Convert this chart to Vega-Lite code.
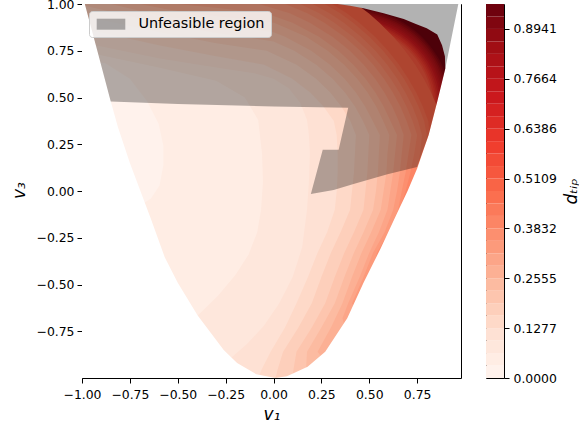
{
"$schema":"https://vega.github.io/schema/vega-lite/v6.json",
"background":"white",
"padding":{"left":9,"top":-3,"right":0,"bottom":0},
"bounds":"flush",
"spacing":25,
"datasets":{
"cb":[{"lo":0,"hi":0.0319,"m":0.016},{"lo":0.0319,"hi":0.0639,"m":0.0479},{"lo":0.0639,"hi":0.0958,"m":0.0798},{"lo":0.0958,"hi":0.1277,"m":0.1118},{"lo":0.1277,"hi":0.1597,"m":0.1437},{"lo":0.1597,"hi":0.1916,"m":0.1756},{"lo":0.1916,"hi":0.2235,"m":0.2076},{"lo":0.2235,"hi":0.2555,"m":0.2395},{"lo":0.2555,"hi":0.2874,"m":0.2714},{"lo":0.2874,"hi":0.3193,"m":0.3034},{"lo":0.3193,"hi":0.3513,"m":0.3353},{"lo":0.3513,"hi":0.3832,"m":0.3672},{"lo":0.3832,"hi":0.4151,"m":0.3992},{"lo":0.4151,"hi":0.4471,"m":0.4311},{"lo":0.4471,"hi":0.479,"m":0.463},{"lo":0.479,"hi":0.5109,"m":0.4949},{"lo":0.5109,"hi":0.5429,"m":0.5269},{"lo":0.5429,"hi":0.5748,"m":0.5588},{"lo":0.5748,"hi":0.6067,"m":0.5907},{"lo":0.6067,"hi":0.6386,"m":0.6226},{"lo":0.6386,"hi":0.6706,"m":0.6546},{"lo":0.6706,"hi":0.7025,"m":0.6865},{"lo":0.7025,"hi":0.7344,"m":0.7184},{"lo":0.7344,"hi":0.7664,"m":0.7504},{"lo":0.7664,"hi":0.7983,"m":0.7823},{"lo":0.7983,"hi":0.8302,"m":0.8143},{"lo":0.8302,"hi":0.8622,"m":0.8462},{"lo":0.8622,"hi":0.8941,"m":0.8781},{"lo":0.8941,"hi":0.926,"m":0.9101},{"lo":0.926,"hi":0.958,"m":0.942}],
"discs":[
{"p":0,"v":0.942,"i":0,"x":-1.05,"y":-1.05},{"p":0,"v":0.942,"i":1,"x":0,"y":-1.05},{"p":0,"v":0.942,"i":2,"x":1.05,"y":-1.05},{"p":0,"v":0.942,"i":3,"x":1.05,"y":0},{"p":0,"v":0.942,"i":4,"x":1.05,"y":1.05},{"p":0,"v":0.942,"i":5,"x":0,"y":1.05},{"p":0,"v":0.942,"i":6,"x":-1.05,"y":1.05},{"p":0,"v":0.942,"i":7,"x":-1.05,"y":0},
{"p":1,"v":0.9101,"i":0,"x":0.4,"y":0.45},{"p":1,"v":0.9101,"i":1,"x":0.859,"y":0.185},{"p":1,"v":0.9101,"i":2,"x":0.922,"y":0.358},{"p":1,"v":0.9101,"i":3,"x":0.922,"y":0.542},{"p":1,"v":0.9101,"i":4,"x":0.859,"y":0.715},{"p":1,"v":0.9101,"i":5,"x":0.741,"y":0.856},{"p":1,"v":0.9101,"i":6,"x":0.581,"y":0.948},{"p":1,"v":0.9101,"i":7,"x":0.4,"y":0.98},{"p":1,"v":0.9101,"i":8,"x":0.219,"y":0.948},
{"p":2,"v":0.8781,"i":0,"x":0.4,"y":0.45},{"p":2,"v":0.8781,"i":1,"x":0.852,"y":0.189},{"p":2,"v":0.8781,"i":2,"x":0.914,"y":0.359},{"p":2,"v":0.8781,"i":3,"x":0.914,"y":0.541},{"p":2,"v":0.8781,"i":4,"x":0.852,"y":0.711},{"p":2,"v":0.8781,"i":5,"x":0.736,"y":0.85},{"p":2,"v":0.8781,"i":6,"x":0.579,"y":0.941},{"p":2,"v":0.8781,"i":7,"x":0.4,"y":0.972},{"p":2,"v":0.8781,"i":8,"x":0.221,"y":0.941},
{"p":3,"v":0.8462,"i":0,"x":0.4,"y":0.45},{"p":3,"v":0.8462,"i":1,"x":0.844,"y":0.193},{"p":3,"v":0.8462,"i":2,"x":0.905,"y":0.361},{"p":3,"v":0.8462,"i":3,"x":0.905,"y":0.539},{"p":3,"v":0.8462,"i":4,"x":0.844,"y":0.707},{"p":3,"v":0.8462,"i":5,"x":0.73,"y":0.843},{"p":3,"v":0.8462,"i":6,"x":0.575,"y":0.932},{"p":3,"v":0.8462,"i":7,"x":0.4,"y":0.963},{"p":3,"v":0.8462,"i":8,"x":0.225,"y":0.932},
{"p":4,"v":0.8143,"i":0,"x":0.4,"y":0.45},{"p":4,"v":0.8143,"i":1,"x":0.837,"y":0.197},{"p":4,"v":0.8143,"i":2,"x":0.897,"y":0.362},{"p":4,"v":0.8143,"i":3,"x":0.897,"y":0.538},{"p":4,"v":0.8143,"i":4,"x":0.837,"y":0.703},{"p":4,"v":0.8143,"i":5,"x":0.725,"y":0.837},{"p":4,"v":0.8143,"i":6,"x":0.573,"y":0.925},{"p":4,"v":0.8143,"i":7,"x":0.4,"y":0.955},{"p":4,"v":0.8143,"i":8,"x":0.227,"y":0.925},
{"p":5,"v":0.7823,"i":0,"x":0.4,"y":0.45},{"p":5,"v":0.7823,"i":1,"x":0.83,"y":0.201},{"p":5,"v":0.7823,"i":2,"x":0.89,"y":0.364},{"p":5,"v":0.7823,"i":3,"x":0.89,"y":0.536},{"p":5,"v":0.7823,"i":4,"x":0.83,"y":0.699},{"p":5,"v":0.7823,"i":5,"x":0.72,"y":0.831},{"p":5,"v":0.7823,"i":6,"x":0.57,"y":0.917},{"p":5,"v":0.7823,"i":7,"x":0.4,"y":0.947},{"p":5,"v":0.7823,"i":8,"x":0.23,"y":0.917},
{"p":6,"v":0.7504,"i":0,"x":0.4,"y":0.45},{"p":6,"v":0.7504,"i":1,"x":0.823,"y":0.206},{"p":6,"v":0.7504,"i":2,"x":0.881,"y":0.365},{"p":6,"v":0.7504,"i":3,"x":0.881,"y":0.535},{"p":6,"v":0.7504,"i":4,"x":0.823,"y":0.694},{"p":6,"v":0.7504,"i":5,"x":0.714,"y":0.824},{"p":6,"v":0.7504,"i":6,"x":0.567,"y":0.909},{"p":6,"v":0.7504,"i":7,"x":0.4,"y":0.938},{"p":6,"v":0.7504,"i":8,"x":0.233,"y":0.909},
{"p":7,"v":0.7184,"i":0,"x":0.4,"y":0.45},{"p":7,"v":0.7184,"i":1,"x":0.816,"y":0.21},{"p":7,"v":0.7184,"i":2,"x":0.873,"y":0.366},{"p":7,"v":0.7184,"i":3,"x":0.873,"y":0.534},{"p":7,"v":0.7184,"i":4,"x":0.816,"y":0.69},{"p":7,"v":0.7184,"i":5,"x":0.709,"y":0.818},{"p":7,"v":0.7184,"i":6,"x":0.564,"y":0.901},{"p":7,"v":0.7184,"i":7,"x":0.4,"y":0.93},{"p":7,"v":0.7184,"i":8,"x":0.236,"y":0.901},
{"p":8,"v":0.6865,"i":0,"x":0.4,"y":0.45},{"p":8,"v":0.6865,"i":1,"x":0.809,"y":0.214},{"p":8,"v":0.6865,"i":2,"x":0.865,"y":0.368},{"p":8,"v":0.6865,"i":3,"x":0.865,"y":0.532},{"p":8,"v":0.6865,"i":4,"x":0.809,"y":0.686},{"p":8,"v":0.6865,"i":5,"x":0.703,"y":0.812},{"p":8,"v":0.6865,"i":6,"x":0.561,"y":0.894},{"p":8,"v":0.6865,"i":7,"x":0.4,"y":0.922},{"p":8,"v":0.6865,"i":8,"x":0.239,"y":0.894},
{"p":9,"v":0.6546,"i":0,"x":0.4,"y":0.45},{"p":9,"v":0.6546,"i":1,"x":0.801,"y":0.218},{"p":9,"v":0.6546,"i":2,"x":0.856,"y":0.369},{"p":9,"v":0.6546,"i":3,"x":0.856,"y":0.531},{"p":9,"v":0.6546,"i":4,"x":0.801,"y":0.682},{"p":9,"v":0.6546,"i":5,"x":0.698,"y":0.805},{"p":9,"v":0.6546,"i":6,"x":0.558,"y":0.885},{"p":9,"v":0.6546,"i":7,"x":0.4,"y":0.913},{"p":9,"v":0.6546,"i":8,"x":0.242,"y":0.885},
{"p":10,"v":0.6226,"i":0,"x":0.4,"y":0.45},{"p":10,"v":0.6226,"i":1,"x":0.794,"y":0.223},{"p":10,"v":0.6226,"i":2,"x":0.848,"y":0.371},{"p":10,"v":0.6226,"i":3,"x":0.848,"y":0.529},{"p":10,"v":0.6226,"i":4,"x":0.794,"y":0.678},{"p":10,"v":0.6226,"i":5,"x":0.693,"y":0.799},{"p":10,"v":0.6226,"i":6,"x":0.556,"y":0.878},{"p":10,"v":0.6226,"i":7,"x":0.4,"y":0.905},{"p":10,"v":0.6226,"i":8,"x":0.244,"y":0.878},
{"p":11,"v":0.5907,"i":0,"x":0.4,"y":0.45},{"p":11,"v":0.5907,"i":1,"x":0.787,"y":0.226},{"p":11,"v":0.5907,"i":2,"x":0.84,"y":0.372},{"p":11,"v":0.5907,"i":3,"x":0.84,"y":0.528},{"p":11,"v":0.5907,"i":4,"x":0.787,"y":0.674},{"p":11,"v":0.5907,"i":5,"x":0.687,"y":0.792},{"p":11,"v":0.5907,"i":6,"x":0.553,"y":0.87},{"p":11,"v":0.5907,"i":7,"x":0.4,"y":0.897},{"p":11,"v":0.5907,"i":8,"x":0.247,"y":0.87},
{"p":12,"v":0.5588,"i":0,"x":0.4,"y":0.45},{"p":12,"v":0.5588,"i":1,"x":0.779,"y":0.231},{"p":12,"v":0.5588,"i":2,"x":0.831,"y":0.374},{"p":12,"v":0.5588,"i":3,"x":0.831,"y":0.526},{"p":12,"v":0.5588,"i":4,"x":0.779,"y":0.669},{"p":12,"v":0.5588,"i":5,"x":0.682,"y":0.786},{"p":12,"v":0.5588,"i":6,"x":0.55,"y":0.862},{"p":12,"v":0.5588,"i":7,"x":0.4,"y":0.888},{"p":12,"v":0.5588,"i":8,"x":0.25,"y":0.862},
{"p":13,"v":0.5269,"i":0,"x":0.4,"y":0.45},{"p":13,"v":0.5269,"i":1,"x":0.772,"y":0.235},{"p":13,"v":0.5269,"i":2,"x":0.824,"y":0.375},{"p":13,"v":0.5269,"i":3,"x":0.824,"y":0.525},{"p":13,"v":0.5269,"i":4,"x":0.772,"y":0.665},{"p":13,"v":0.5269,"i":5,"x":0.676,"y":0.779},{"p":13,"v":0.5269,"i":6,"x":0.547,"y":0.854},{"p":13,"v":0.5269,"i":7,"x":0.4,"y":0.88},{"p":13,"v":0.5269,"i":8,"x":0.253,"y":0.854}
],
"contours":[
{"p":16,"v":0.4949,"i":0,"x":-1.05,"y":1.05},{"p":16,"v":0.4949,"i":1,"x":0.433,"y":1.05},{"p":16,"v":0.4949,"i":2,"x":0.433,"y":1.0},{"p":16,"v":0.4949,"i":3,"x":0.497,"y":0.95},{"p":16,"v":0.4949,"i":4,"x":0.553,"y":0.9},{"p":16,"v":0.4949,"i":5,"x":0.626,"y":0.825},{"p":16,"v":0.4949,"i":6,"x":0.687,"y":0.75},{"p":16,"v":0.4949,"i":7,"x":0.74,"y":0.675},{"p":16,"v":0.4949,"i":8,"x":0.785,"y":0.6},{"p":16,"v":0.4949,"i":9,"x":0.823,"y":0.525},{"p":16,"v":0.4949,"i":10,"x":0.855,"y":0.45},{"p":16,"v":0.4949,"i":11,"x":1.05,"y":0.45},{"p":16,"v":0.4949,"i":12,"x":1.05,"y":-1.05},{"p":16,"v":0.4949,"i":13,"x":-1.05,"y":-1.05},
{"p":15,"v":0.463,"i":0,"x":-1.05,"y":1.05},{"p":15,"v":0.463,"i":1,"x":0.307,"y":1.05},{"p":15,"v":0.463,"i":2,"x":0.307,"y":1.0},{"p":15,"v":0.463,"i":3,"x":0.383,"y":0.95},{"p":15,"v":0.463,"i":4,"x":0.448,"y":0.9},{"p":15,"v":0.463,"i":5,"x":0.53,"y":0.825},{"p":15,"v":0.463,"i":6,"x":0.598,"y":0.75},{"p":15,"v":0.463,"i":7,"x":0.656,"y":0.675},{"p":15,"v":0.463,"i":8,"x":0.704,"y":0.6},{"p":15,"v":0.463,"i":9,"x":0.746,"y":0.525},{"p":15,"v":0.463,"i":10,"x":0.78,"y":0.45},{"p":15,"v":0.463,"i":11,"x":0.808,"y":0.375},{"p":15,"v":0.463,"i":12,"x":0.815,"y":0.3},{"p":15,"v":0.463,"i":13,"x":1.05,"y":0.3},{"p":15,"v":0.463,"i":14,"x":1.05,"y":-1.05},{"p":15,"v":0.463,"i":15,"x":-1.05,"y":-1.05},
{"p":14,"v":0.4311,"i":0,"x":-1.05,"y":1.05},{"p":14,"v":0.4311,"i":1,"x":0.268,"y":1.05},{"p":14,"v":0.4311,"i":2,"x":0.268,"y":1.0},{"p":14,"v":0.4311,"i":3,"x":0.348,"y":0.95},{"p":14,"v":0.4311,"i":4,"x":0.416,"y":0.9},{"p":14,"v":0.4311,"i":5,"x":0.501,"y":0.825},{"p":14,"v":0.4311,"i":6,"x":0.572,"y":0.75},{"p":14,"v":0.4311,"i":7,"x":0.631,"y":0.675},{"p":14,"v":0.4311,"i":8,"x":0.681,"y":0.6},{"p":14,"v":0.4311,"i":9,"x":0.723,"y":0.525},{"p":14,"v":0.4311,"i":10,"x":0.758,"y":0.45},{"p":14,"v":0.4311,"i":11,"x":0.787,"y":0.375},{"p":14,"v":0.4311,"i":12,"x":0.8,"y":0.3},{"p":14,"v":0.4311,"i":13,"x":0.795,"y":0.22},{"p":14,"v":0.4311,"i":14,"x":1.05,"y":0.22},{"p":14,"v":0.4311,"i":15,"x":1.05,"y":-1.05},{"p":14,"v":0.4311,"i":16,"x":-1.05,"y":-1.05},
{"p":13,"v":0.3992,"i":0,"x":-1.05,"y":1.05},{"p":13,"v":0.3992,"i":1,"x":0.204,"y":1.05},{"p":13,"v":0.3992,"i":2,"x":0.204,"y":1.0},{"p":13,"v":0.3992,"i":3,"x":0.293,"y":0.95},{"p":13,"v":0.3992,"i":4,"x":0.367,"y":0.9},{"p":13,"v":0.3992,"i":5,"x":0.457,"y":0.825},{"p":13,"v":0.3992,"i":6,"x":0.532,"y":0.75},{"p":13,"v":0.3992,"i":7,"x":0.594,"y":0.675},{"p":13,"v":0.3992,"i":8,"x":0.646,"y":0.6},{"p":13,"v":0.3992,"i":9,"x":0.689,"y":0.525},{"p":13,"v":0.3992,"i":10,"x":0.726,"y":0.45},{"p":13,"v":0.3992,"i":11,"x":0.755,"y":0.375},{"p":13,"v":0.3992,"i":12,"x":0.775,"y":0.3},{"p":13,"v":0.3992,"i":13,"x":0.765,"y":0.2},{"p":13,"v":0.3992,"i":14,"x":0.75,"y":0.1},{"p":13,"v":0.3992,"i":15,"x":1.05,"y":0.1},{"p":13,"v":0.3992,"i":16,"x":1.05,"y":-1.05},{"p":13,"v":0.3992,"i":17,"x":-1.05,"y":-1.05},
{"p":12,"v":0.3672,"i":0,"x":-1.05,"y":1.05},{"p":12,"v":0.3672,"i":1,"x":0.139,"y":1.05},{"p":12,"v":0.3672,"i":2,"x":0.139,"y":1.0},{"p":12,"v":0.3672,"i":3,"x":0.239,"y":0.95},{"p":12,"v":0.3672,"i":4,"x":0.318,"y":0.9},{"p":12,"v":0.3672,"i":5,"x":0.415,"y":0.825},{"p":12,"v":0.3672,"i":6,"x":0.494,"y":0.75},{"p":12,"v":0.3672,"i":7,"x":0.558,"y":0.675},{"p":12,"v":0.3672,"i":8,"x":0.612,"y":0.6},{"p":12,"v":0.3672,"i":9,"x":0.658,"y":0.525},{"p":12,"v":0.3672,"i":10,"x":0.695,"y":0.45},{"p":12,"v":0.3672,"i":11,"x":0.726,"y":0.375},{"p":12,"v":0.3672,"i":12,"x":0.75,"y":0.3},{"p":12,"v":0.3672,"i":13,"x":0.735,"y":0.2},{"p":12,"v":0.3672,"i":14,"x":0.715,"y":0.1},{"p":12,"v":0.3672,"i":15,"x":0.69,"y":0.0},{"p":12,"v":0.3672,"i":16,"x":0.665,"y":-0.08},{"p":12,"v":0.3672,"i":17,"x":1.05,"y":-0.08},{"p":12,"v":0.3672,"i":18,"x":1.05,"y":-1.05},{"p":12,"v":0.3672,"i":19,"x":-1.05,"y":-1.05},
{"p":11,"v":0.3353,"i":0,"x":-1.05,"y":1.05},{"p":11,"v":0.3353,"i":1,"x":0.061,"y":1.05},{"p":11,"v":0.3353,"i":2,"x":0.061,"y":1.0},{"p":11,"v":0.3353,"i":3,"x":0.177,"y":0.95},{"p":11,"v":0.3353,"i":4,"x":0.266,"y":0.9},{"p":11,"v":0.3353,"i":5,"x":0.37,"y":0.825},{"p":11,"v":0.3353,"i":6,"x":0.453,"y":0.75},{"p":11,"v":0.3353,"i":7,"x":0.521,"y":0.675},{"p":11,"v":0.3353,"i":8,"x":0.577,"y":0.6},{"p":11,"v":0.3353,"i":9,"x":0.624,"y":0.525},{"p":11,"v":0.3353,"i":10,"x":0.663,"y":0.45},{"p":11,"v":0.3353,"i":11,"x":0.695,"y":0.375},{"p":11,"v":0.3353,"i":12,"x":0.72,"y":0.3},{"p":11,"v":0.3353,"i":13,"x":0.705,"y":0.2},{"p":11,"v":0.3353,"i":14,"x":0.69,"y":0.1},{"p":11,"v":0.3353,"i":15,"x":0.67,"y":0.0},{"p":11,"v":0.3353,"i":16,"x":0.65,"y":-0.1},{"p":11,"v":0.3353,"i":17,"x":0.6,"y":-0.22},{"p":11,"v":0.3353,"i":18,"x":0.54,"y":-0.33},{"p":11,"v":0.3353,"i":19,"x":0.52,"y":-0.42},{"p":11,"v":0.3353,"i":20,"x":1.05,"y":-0.42},{"p":11,"v":0.3353,"i":21,"x":1.05,"y":-1.05},{"p":11,"v":0.3353,"i":22,"x":-1.05,"y":-1.05},
{"p":10,"v":0.3034,"i":0,"x":-1.05,"y":1.05},{"p":10,"v":0.3034,"i":1,"x":-0.075,"y":1.05},{"p":10,"v":0.3034,"i":2,"x":-0.075,"y":1.0},{"p":10,"v":0.3034,"i":3,"x":0.085,"y":0.95},{"p":10,"v":0.3034,"i":4,"x":0.19,"y":0.9},{"p":10,"v":0.3034,"i":5,"x":0.308,"y":0.825},{"p":10,"v":0.3034,"i":6,"x":0.399,"y":0.75},{"p":10,"v":0.3034,"i":7,"x":0.471,"y":0.675},{"p":10,"v":0.3034,"i":8,"x":0.531,"y":0.6},{"p":10,"v":0.3034,"i":9,"x":0.58,"y":0.525},{"p":10,"v":0.3034,"i":10,"x":0.621,"y":0.45},{"p":10,"v":0.3034,"i":11,"x":0.654,"y":0.375},{"p":10,"v":0.3034,"i":12,"x":0.68,"y":0.3},{"p":10,"v":0.3034,"i":13,"x":0.67,"y":0.2},{"p":10,"v":0.3034,"i":14,"x":0.66,"y":0.1},{"p":10,"v":0.3034,"i":15,"x":0.645,"y":0.0},{"p":10,"v":0.3034,"i":16,"x":0.625,"y":-0.1},{"p":10,"v":0.3034,"i":17,"x":0.58,"y":-0.22},{"p":10,"v":0.3034,"i":18,"x":0.52,"y":-0.33},{"p":10,"v":0.3034,"i":19,"x":0.47,"y":-0.46},{"p":10,"v":0.3034,"i":20,"x":0.41,"y":-0.6},{"p":10,"v":0.3034,"i":21,"x":0.42,"y":-0.62},{"p":10,"v":0.3034,"i":22,"x":1.05,"y":-0.62},{"p":10,"v":0.3034,"i":23,"x":1.05,"y":-1.05},{"p":10,"v":0.3034,"i":24,"x":-1.05,"y":-1.05},
{"p":9,"v":0.2714,"i":0,"x":-1.05,"y":1.05},{"p":9,"v":0.2714,"i":1,"x":-0.5,"y":1.05},{"p":9,"v":0.2714,"i":2,"x":-0.5,"y":1.0},{"p":9,"v":0.2714,"i":3,"x":-0.3,"y":0.98},{"p":9,"v":0.2714,"i":4,"x":-0.04,"y":0.95},{"p":9,"v":0.2714,"i":5,"x":0.1,"y":0.9},{"p":9,"v":0.2714,"i":6,"x":0.238,"y":0.825},{"p":9,"v":0.2714,"i":7,"x":0.339,"y":0.75},{"p":9,"v":0.2714,"i":8,"x":0.417,"y":0.675},{"p":9,"v":0.2714,"i":9,"x":0.481,"y":0.6},{"p":9,"v":0.2714,"i":10,"x":0.533,"y":0.525},{"p":9,"v":0.2714,"i":11,"x":0.576,"y":0.45},{"p":9,"v":0.2714,"i":12,"x":0.611,"y":0.375},{"p":9,"v":0.2714,"i":13,"x":0.645,"y":0.3},{"p":9,"v":0.2714,"i":14,"x":0.635,"y":0.2},{"p":9,"v":0.2714,"i":15,"x":0.625,"y":0.1},{"p":9,"v":0.2714,"i":16,"x":0.61,"y":0.0},{"p":9,"v":0.2714,"i":17,"x":0.595,"y":-0.1},{"p":9,"v":0.2714,"i":18,"x":0.55,"y":-0.22},{"p":9,"v":0.2714,"i":19,"x":0.5,"y":-0.33},{"p":9,"v":0.2714,"i":20,"x":0.45,"y":-0.46},{"p":9,"v":0.2714,"i":21,"x":0.39,"y":-0.6},{"p":9,"v":0.2714,"i":22,"x":0.36,"y":-0.68},{"p":9,"v":0.2714,"i":23,"x":0.37,"y":-0.72},{"p":9,"v":0.2714,"i":24,"x":1.05,"y":-0.72},{"p":9,"v":0.2714,"i":25,"x":1.05,"y":-1.05},{"p":9,"v":0.2714,"i":26,"x":-1.05,"y":-1.05},
{"p":8,"v":0.2395,"i":0,"x":-1.05,"y":1.05},{"p":8,"v":0.2395,"i":1,"x":-0.7,"y":1.05},{"p":8,"v":0.2395,"i":2,"x":-0.7,"y":1.0},{"p":8,"v":0.2395,"i":3,"x":-0.55,"y":0.97},{"p":8,"v":0.2395,"i":4,"x":-0.3,"y":0.935},{"p":8,"v":0.2395,"i":5,"x":0.004,"y":0.9},{"p":8,"v":0.2395,"i":6,"x":0.171,"y":0.825},{"p":8,"v":0.2395,"i":7,"x":0.283,"y":0.75},{"p":8,"v":0.2395,"i":8,"x":0.369,"y":0.675},{"p":8,"v":0.2395,"i":9,"x":0.437,"y":0.6},{"p":8,"v":0.2395,"i":10,"x":0.492,"y":0.525},{"p":8,"v":0.2395,"i":11,"x":0.537,"y":0.45},{"p":8,"v":0.2395,"i":12,"x":0.573,"y":0.375},{"p":8,"v":0.2395,"i":13,"x":0.605,"y":0.3},{"p":8,"v":0.2395,"i":14,"x":0.595,"y":0.2},{"p":8,"v":0.2395,"i":15,"x":0.59,"y":0.1},{"p":8,"v":0.2395,"i":16,"x":0.575,"y":0.0},{"p":8,"v":0.2395,"i":17,"x":0.56,"y":-0.1},{"p":8,"v":0.2395,"i":18,"x":0.51,"y":-0.22},{"p":8,"v":0.2395,"i":19,"x":0.46,"y":-0.33},{"p":8,"v":0.2395,"i":20,"x":0.41,"y":-0.46},{"p":8,"v":0.2395,"i":21,"x":0.36,"y":-0.6},{"p":8,"v":0.2395,"i":22,"x":0.3,"y":-0.73},{"p":8,"v":0.2395,"i":23,"x":0.23,"y":-0.86},{"p":8,"v":0.2395,"i":24,"x":0.26,"y":-0.9},{"p":8,"v":0.2395,"i":25,"x":1.05,"y":-0.9},{"p":8,"v":0.2395,"i":26,"x":1.05,"y":-1.05},{"p":8,"v":0.2395,"i":27,"x":-1.05,"y":-1.05},
{"p":7,"v":0.2076,"i":0,"x":-1.05,"y":1.05},{"p":7,"v":0.2076,"i":1,"x":-0.85,"y":1.05},{"p":7,"v":0.2076,"i":2,"x":-0.85,"y":1.0},{"p":7,"v":0.2076,"i":3,"x":-0.6,"y":0.94},{"p":7,"v":0.2076,"i":4,"x":-0.3,"y":0.89},{"p":7,"v":0.2076,"i":5,"x":0.0,"y":0.849},{"p":7,"v":0.2076,"i":6,"x":0.06,"y":0.825},{"p":7,"v":0.2076,"i":7,"x":0.197,"y":0.75},{"p":7,"v":0.2076,"i":8,"x":0.295,"y":0.675},{"p":7,"v":0.2076,"i":9,"x":0.371,"y":0.6},{"p":7,"v":0.2076,"i":10,"x":0.431,"y":0.525},{"p":7,"v":0.2076,"i":11,"x":0.479,"y":0.45},{"p":7,"v":0.2076,"i":12,"x":0.518,"y":0.375},{"p":7,"v":0.2076,"i":13,"x":0.555,"y":0.3},{"p":7,"v":0.2076,"i":14,"x":0.55,"y":0.2},{"p":7,"v":0.2076,"i":15,"x":0.545,"y":0.1},{"p":7,"v":0.2076,"i":16,"x":0.535,"y":0.0},{"p":7,"v":0.2076,"i":17,"x":0.52,"y":-0.1},{"p":7,"v":0.2076,"i":18,"x":0.47,"y":-0.22},{"p":7,"v":0.2076,"i":19,"x":0.42,"y":-0.33},{"p":7,"v":0.2076,"i":20,"x":0.37,"y":-0.46},{"p":7,"v":0.2076,"i":21,"x":0.32,"y":-0.6},{"p":7,"v":0.2076,"i":22,"x":0.25,"y":-0.73},{"p":7,"v":0.2076,"i":23,"x":0.175,"y":-0.86},{"p":7,"v":0.2076,"i":24,"x":0.17,"y":-0.95},{"p":7,"v":0.2076,"i":25,"x":0.2,"y":-1.05},{"p":7,"v":0.2076,"i":26,"x":-1.05,"y":-1.05},
{"p":6,"v":0.1756,"i":0,"x":-1.05,"y":0.99},{"p":6,"v":0.1756,"i":1,"x":-0.985,"y":0.99},{"p":6,"v":0.1756,"i":2,"x":-0.6,"y":0.9},{"p":6,"v":0.1756,"i":3,"x":-0.3,"y":0.845},{"p":6,"v":0.1756,"i":4,"x":0.0,"y":0.8},{"p":6,"v":0.1756,"i":5,"x":0.108,"y":0.75},{"p":6,"v":0.1756,"i":6,"x":0.223,"y":0.675},{"p":6,"v":0.1756,"i":7,"x":0.308,"y":0.6},{"p":6,"v":0.1756,"i":8,"x":0.374,"y":0.525},{"p":6,"v":0.1756,"i":9,"x":0.426,"y":0.45},{"p":6,"v":0.1756,"i":10,"x":0.467,"y":0.375},{"p":6,"v":0.1756,"i":11,"x":0.5,"y":0.3},{"p":6,"v":0.1756,"i":12,"x":0.495,"y":0.2},{"p":6,"v":0.1756,"i":13,"x":0.49,"y":0.1},{"p":6,"v":0.1756,"i":14,"x":0.48,"y":0.0},{"p":6,"v":0.1756,"i":15,"x":0.47,"y":-0.1},{"p":6,"v":0.1756,"i":16,"x":0.42,"y":-0.22},{"p":6,"v":0.1756,"i":17,"x":0.37,"y":-0.33},{"p":6,"v":0.1756,"i":18,"x":0.32,"y":-0.46},{"p":6,"v":0.1756,"i":19,"x":0.27,"y":-0.6},{"p":6,"v":0.1756,"i":20,"x":0.2,"y":-0.73},{"p":6,"v":0.1756,"i":21,"x":0.12,"y":-0.86},{"p":6,"v":0.1756,"i":22,"x":0.1,"y":-0.98},{"p":6,"v":0.1756,"i":23,"x":0.1,"y":-1.05},{"p":6,"v":0.1756,"i":24,"x":-1.05,"y":-1.05},
{"p":5,"v":0.1437,"i":0,"x":-1.05,"y":0.93},{"p":5,"v":0.1437,"i":1,"x":-0.97,"y":0.93},{"p":5,"v":0.1437,"i":2,"x":-0.6,"y":0.85},{"p":5,"v":0.1437,"i":3,"x":-0.3,"y":0.79},{"p":5,"v":0.1437,"i":4,"x":-0.036,"y":0.75},{"p":5,"v":0.1437,"i":5,"x":0.12,"y":0.675},{"p":5,"v":0.1437,"i":6,"x":0.222,"y":0.6},{"p":5,"v":0.1437,"i":7,"x":0.297,"y":0.525},{"p":5,"v":0.1437,"i":8,"x":0.355,"y":0.45},{"p":5,"v":0.1437,"i":9,"x":0.401,"y":0.375},{"p":5,"v":0.1437,"i":10,"x":0.43,"y":0.3},{"p":5,"v":0.1437,"i":11,"x":0.425,"y":0.2},{"p":5,"v":0.1437,"i":12,"x":0.42,"y":0.1},{"p":5,"v":0.1437,"i":13,"x":0.41,"y":0.0},{"p":5,"v":0.1437,"i":14,"x":0.4,"y":-0.1},{"p":5,"v":0.1437,"i":15,"x":0.35,"y":-0.22},{"p":5,"v":0.1437,"i":16,"x":0.3,"y":-0.33},{"p":5,"v":0.1437,"i":17,"x":0.25,"y":-0.46},{"p":5,"v":0.1437,"i":18,"x":0.2,"y":-0.6},{"p":5,"v":0.1437,"i":19,"x":0.13,"y":-0.73},{"p":5,"v":0.1437,"i":20,"x":0.05,"y":-0.86},{"p":5,"v":0.1437,"i":21,"x":0.02,"y":-0.96},{"p":5,"v":0.1437,"i":22,"x":0.0,"y":-1.05},{"p":5,"v":0.1437,"i":23,"x":-1.05,"y":-1.05},
{"p":4,"v":0.1118,"i":0,"x":-1.05,"y":0.86},{"p":4,"v":0.1118,"i":1,"x":-0.95,"y":0.86},{"p":4,"v":0.1118,"i":2,"x":-0.6,"y":0.78},{"p":4,"v":0.1118,"i":3,"x":-0.3,"y":0.72},{"p":4,"v":0.1118,"i":4,"x":-0.049,"y":0.675},{"p":4,"v":0.1118,"i":5,"x":0.098,"y":0.6},{"p":4,"v":0.1118,"i":6,"x":0.193,"y":0.525},{"p":4,"v":0.1118,"i":7,"x":0.262,"y":0.45},{"p":4,"v":0.1118,"i":8,"x":0.315,"y":0.375},{"p":4,"v":0.1118,"i":9,"x":0.33,"y":0.3},{"p":4,"v":0.1118,"i":10,"x":0.335,"y":0.2},{"p":4,"v":0.1118,"i":11,"x":0.335,"y":0.1},{"p":4,"v":0.1118,"i":12,"x":0.33,"y":0.0},{"p":4,"v":0.1118,"i":13,"x":0.32,"y":-0.1},{"p":4,"v":0.1118,"i":14,"x":0.28,"y":-0.22},{"p":4,"v":0.1118,"i":15,"x":0.23,"y":-0.33},{"p":4,"v":0.1118,"i":16,"x":0.18,"y":-0.46},{"p":4,"v":0.1118,"i":17,"x":0.12,"y":-0.6},{"p":4,"v":0.1118,"i":18,"x":0.06,"y":-0.73},{"p":4,"v":0.1118,"i":19,"x":-0.015,"y":-0.86},{"p":4,"v":0.1118,"i":20,"x":-0.06,"y":-0.95},{"p":4,"v":0.1118,"i":21,"x":-0.1,"y":-1.05},{"p":4,"v":0.1118,"i":22,"x":-1.05,"y":-1.05},
{"p":3,"v":0.0798,"i":0,"x":-1.05,"y":0.78},{"p":3,"v":0.0798,"i":1,"x":-0.93,"y":0.78},{"p":3,"v":0.0798,"i":2,"x":-0.6,"y":0.71},{"p":3,"v":0.0798,"i":3,"x":-0.3,"y":0.66},{"p":3,"v":0.0798,"i":4,"x":-0.1,"y":0.63},{"p":3,"v":0.0798,"i":5,"x":0.0,"y":0.6},{"p":3,"v":0.0798,"i":6,"x":0.08,"y":0.55},{"p":3,"v":0.0798,"i":7,"x":0.14,"y":0.47},{"p":3,"v":0.0798,"i":8,"x":0.175,"y":0.38},{"p":3,"v":0.0798,"i":9,"x":0.185,"y":0.3},{"p":3,"v":0.0798,"i":10,"x":0.19,"y":0.2},{"p":3,"v":0.0798,"i":11,"x":0.185,"y":0.05},{"p":3,"v":0.0798,"i":12,"x":0.175,"y":-0.1},{"p":3,"v":0.0798,"i":13,"x":0.15,"y":-0.3},{"p":3,"v":0.0798,"i":14,"x":0.1,"y":-0.46},{"p":3,"v":0.0798,"i":15,"x":0.03,"y":-0.6},{"p":3,"v":0.0798,"i":16,"x":-0.05,"y":-0.72},{"p":3,"v":0.0798,"i":17,"x":-0.14,"y":-0.82},{"p":3,"v":0.0798,"i":18,"x":-0.23,"y":-0.9},{"p":3,"v":0.0798,"i":19,"x":-0.3,"y":-1.05},{"p":3,"v":0.0798,"i":20,"x":-1.05,"y":-1.05},
{"p":2,"v":0.0479,"i":0,"x":-1.05,"y":0.73},{"p":2,"v":0.0479,"i":1,"x":-0.92,"y":0.73},{"p":2,"v":0.0479,"i":2,"x":-0.6,"y":0.66},{"p":2,"v":0.0479,"i":3,"x":-0.3,"y":0.59},{"p":2,"v":0.0479,"i":4,"x":-0.15,"y":0.5},{"p":2,"v":0.0479,"i":5,"x":-0.08,"y":0.38},{"p":2,"v":0.0479,"i":6,"x":-0.06,"y":0.2},{"p":2,"v":0.0479,"i":7,"x":-0.055,"y":0.05},{"p":2,"v":0.0479,"i":8,"x":-0.065,"y":-0.1},{"p":2,"v":0.0479,"i":9,"x":-0.085,"y":-0.22},{"p":2,"v":0.0479,"i":10,"x":-0.13,"y":-0.34},{"p":2,"v":0.0479,"i":11,"x":-0.2,"y":-0.45},{"p":2,"v":0.0479,"i":12,"x":-0.29,"y":-0.56},{"p":2,"v":0.0479,"i":13,"x":-0.4,"y":-0.67},{"p":2,"v":0.0479,"i":14,"x":-0.5,"y":-0.76},{"p":2,"v":0.0479,"i":15,"x":-1.05,"y":-0.76},
{"p":1,"v":0.016,"i":0,"x":-1.05,"y":0.69},{"p":1,"v":0.016,"i":1,"x":-0.88,"y":0.685},{"p":1,"v":0.016,"i":2,"x":-0.75,"y":0.6},{"p":1,"v":0.016,"i":3,"x":-0.66,"y":0.48},{"p":1,"v":0.016,"i":4,"x":-0.6,"y":0.36},{"p":1,"v":0.016,"i":5,"x":-0.575,"y":0.24},{"p":1,"v":0.016,"i":6,"x":-0.575,"y":0.14},{"p":1,"v":0.016,"i":7,"x":-0.595,"y":0.03},{"p":1,"v":0.016,"i":8,"x":-0.64,"y":-0.04},{"p":1,"v":0.016,"i":9,"x":-0.7,"y":-0.08},{"p":1,"v":0.016,"i":10,"x":-1.05,"y":-0.08}
],
"masks":[
{"p":0,"i":0,"x":-1.05,"y":1.05},{"p":0,"i":1,"x":-0.99,"y":1.05},{"p":0,"i":2,"x":-0.985,"y":1.0},{"p":0,"i":3,"x":-0.92,"y":0.75},{"p":0,"i":4,"x":-0.85,"y":0.48},{"p":0,"i":5,"x":-0.813,"y":0.343},{"p":0,"i":6,"x":-0.75,"y":0.15},{"p":0,"i":7,"x":-0.695,"y":0.0},{"p":0,"i":8,"x":-0.64,"y":-0.15},{"p":0,"i":9,"x":-0.568,"y":-0.354},{"p":0,"i":10,"x":-0.5,"y":-0.49},{"p":0,"i":11,"x":-0.396,"y":-0.666},{"p":0,"i":12,"x":-0.26,"y":-0.85},{"p":0,"i":13,"x":-0.19,"y":-0.92},{"p":0,"i":14,"x":-0.09,"y":-0.98},{"p":0,"i":15,"x":0.01,"y":-1.0},{"p":0,"i":16,"x":0.01,"y":-1.05},{"p":0,"i":17,"x":-1.05,"y":-1.05},
{"p":1,"i":0,"x":0.01,"y":-1.05},{"p":1,"i":1,"x":0.01,"y":-1.0},{"p":1,"i":2,"x":0.07,"y":-0.99},{"p":1,"i":3,"x":0.178,"y":-0.94},{"p":1,"i":4,"x":0.27,"y":-0.86},{"p":1,"i":5,"x":0.385,"y":-0.68},{"p":1,"i":6,"x":0.47,"y":-0.49},{"p":1,"i":7,"x":0.558,"y":-0.31},{"p":1,"i":8,"x":0.64,"y":-0.13},{"p":1,"i":9,"x":0.7,"y":0.0},{"p":1,"i":10,"x":0.75,"y":0.12},{"p":1,"i":11,"x":0.81,"y":0.3},{"p":1,"i":12,"x":0.855,"y":0.478},{"p":1,"i":13,"x":0.897,"y":0.655},{"p":1,"i":14,"x":0.895,"y":0.72},{"p":1,"i":15,"x":0.88,"y":0.78},{"p":1,"i":16,"x":0.855,"y":0.837},{"p":1,"i":17,"x":0.8,"y":0.87},{"p":1,"i":18,"x":0.74,"y":0.895},{"p":1,"i":19,"x":0.68,"y":0.92},{"p":1,"i":20,"x":0.575,"y":0.95},{"p":1,"i":21,"x":0.47,"y":0.977},{"p":1,"i":22,"x":0.4,"y":0.99},{"p":1,"i":23,"x":0.335,"y":1.0},{"p":1,"i":24,"x":0.33,"y":1.05},{"p":1,"i":25,"x":1.05,"y":1.05},{"p":1,"i":26,"x":1.05,"y":-1.05}
],
"gray":[
{"name":"Unfeasible region","i":0,"x":-0.988,"y":1.01},{"name":"Unfeasible region","i":1,"x":0.967,"y":1.01},{"name":"Unfeasible region","i":2,"x":0.897,"y":0.655},{"name":"Unfeasible region","i":3,"x":0.855,"y":0.478},{"name":"Unfeasible region","i":4,"x":0.81,"y":0.3},{"name":"Unfeasible region","i":5,"x":0.75,"y":0.129},{"name":"Unfeasible region","i":6,"x":0.595,"y":0.09},{"name":"Unfeasible region","i":7,"x":0.418,"y":0.038},{"name":"Unfeasible region","i":8,"x":0.314,"y":0.005},{"name":"Unfeasible region","i":9,"x":0.195,"y":-0.016},{"name":"Unfeasible region","i":10,"x":0.257,"y":0.22},{"name":"Unfeasible region","i":11,"x":0.34,"y":0.22},{"name":"Unfeasible region","i":12,"x":0.39,"y":0.445},{"name":"Unfeasible region","i":13,"x":0.0,"y":0.452},{"name":"Unfeasible region","i":14,"x":-0.5,"y":0.465},{"name":"Unfeasible region","i":15,"x":-0.85,"y":0.478},{"name":"Unfeasible region","i":16,"x":-0.92,"y":0.75}
]
},
"hconcat":[
{
"width":379,"height":374,
"encoding":{
"x":{"field":"x","type":"quantitative","scale":{"domain":[-1,0.979],"nice":false,"zero":false},
"axis":{"values":[-1,-0.75,-0.5,-0.25,0,0.25,0.5,0.75],"format":".2f","title":"v₁","titleY":41,"titleBaseline":"alphabetic","labelPadding":5,"tickSize":5,"labelFlush":false,"labelOverlap":false}},
"y":{"field":"y","type":"quantitative","scale":{"domain":[-1,1],"nice":false,"zero":false},
"axis":{"values":[-0.75,-0.5,-0.25,0,0.25,0.5,0.75,1],"format":".2f","title":"v₃","titleAngle":270,"titleX":-58,"titleY":186,"titleBaseline":"alphabetic","titleAlign":"center","labelPadding":3,"tickSize":5,"labelFlush":false,"labelOverlap":false}},
"order":{"field":"i","type":"quantitative"}
},
"layer":[
{"data":{"name":"discs"},"mark":{"type":"line","filled":true,"interpolate":"cardinal-closed","clip":true},
"encoding":{"detail":{"field":"p","type":"nominal"},"color":{"field":"v","type":"quantitative","scale":{"domain":[0,0.11975,0.2395,0.35925,0.479,0.59875,0.7185,0.83825,0.958],"range":["#fff5f0","#fee0d2","#fcbba1","#fc9272","#fb6a4a","#ef3b2c","#cb181d","#a50f15","#67000d"],"interpolate":"rgb"},"legend":null}}},
{"data":{"name":"contours"},"mark":{"type":"line","filled":true,"interpolate":"linear","clip":true},
"encoding":{"detail":{"field":"p","type":"nominal"},"color":{"field":"v","type":"quantitative","scale":{"domain":[0,0.11975,0.2395,0.35925,0.479,0.59875,0.7185,0.83825,0.958],"range":["#fff5f0","#fee0d2","#fcbba1","#fc9272","#fb6a4a","#ef3b2c","#cb181d","#a50f15","#67000d"],"interpolate":"rgb"},"legend":null}}},
{"data":{"name":"masks"},"mark":{"type":"line","filled":true,"clip":true,"color":"white"},
"encoding":{"detail":{"field":"p","type":"nominal"}}},
{"data":{"name":"gray"},"mark":{"type":"line","filled":true,"clip":true,"opacity":0.3},
"encoding":{"fill":{"field":"name","type":"nominal","scale":{"range":["#000000"]},
"legend":{"orient":"top-left","offset":7,"title":null,"fillColor":"rgba(255,255,255,0.8)","strokeColor":"#cccccc","cornerRadius":3,"padding":6,"labelFont":"DejaVu Sans","labelFontSize":14.4,"labelColor":"#000","labelOffset":29,"symbolType":"M-1,-1H4.2V1H-1Z","symbolSize":121,"symbolOpacity":0.3,"symbolStrokeWidth":0,"symbolFillColor":"#000000"}}}}
]
},
{
"width":18,"height":374,
"data":{"name":"cb"},
"mark":{"type":"rect"},
"encoding":{
"x":{"datum":0,"type":"quantitative","scale":{"domain":[0,1]},"axis":null},
"x2":{"datum":1},
"y":{"field":"lo","type":"quantitative","scale":{"domain":[0,0.958],"nice":false,"zero":false},
"axis":{"orient":"right","values":[0,0.1277,0.2555,0.3832,0.5109,0.6386,0.7664,0.8941],"format":".4f","title":"dₜᵢₚ","titleAngle":270,"titleX":72,"titleY":187,"titleBaseline":"alphabetic","titleAlign":"center","labelPadding":4,"tickSize":5,"labelFlush":false,"labelOverlap":false}},
"y2":{"field":"hi"},
"color":{"field":"m","type":"quantitative","scale":{"domain":[0,0.11975,0.2395,0.35925,0.479,0.59875,0.7185,0.83825,0.958],"range":["#fff5f0","#fee0d2","#fcbba1","#fc9272","#fb6a4a","#ef3b2c","#cb181d","#a50f15","#67000d"],"interpolate":"rgb"},"legend":null}
}
}
],
"config":{
"font":"DejaVu Sans",
"view":{"stroke":"black","strokeWidth":1},
"axis":{"labelFont":"DejaVu Sans","labelFontSize":12.4,"labelColor":"#000","tickColor":"#000","tickWidth":1,"domain":false,"grid":false,"titleFont":"DejaVu Sans","titleFontSize":17,"titleFontStyle":"italic","titleFontWeight":"normal","titleColor":"#000"}
}
}
